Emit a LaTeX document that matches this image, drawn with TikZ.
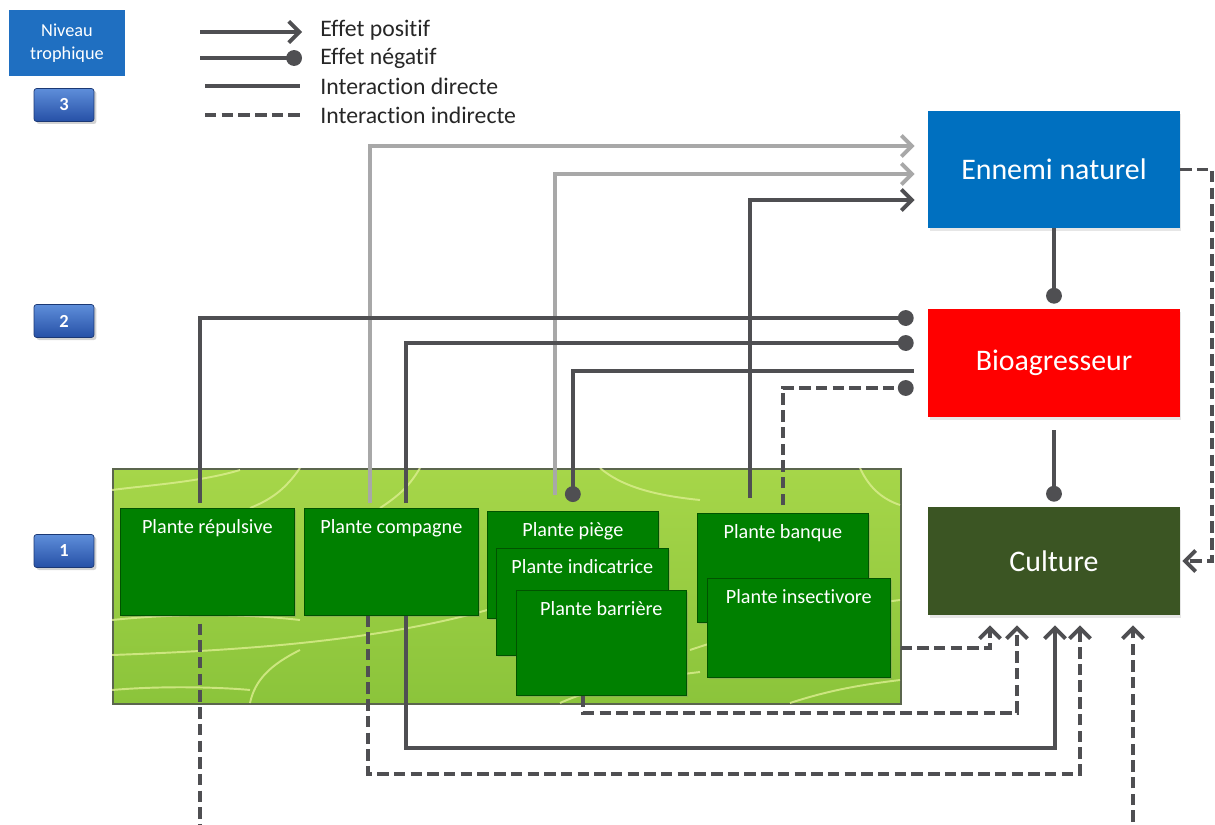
\documentclass[tikz,border=0pt]{standalone}
\usepackage{fontspec}
\setmainfont{Carlito}[Ligatures=NoCommon]
\usepackage{tikz}
\usetikzlibrary{arrows.meta,positioning,calc,shadows}
\usepackage{xcolor}
\definecolor{LevelBlue}{HTML}{1F6FC1}
\definecolor{BtnTop}{HTML}{5E8EDA}
\definecolor{BtnBottom}{HTML}{2650A6}
\definecolor{EnemyBlue}{HTML}{0070C0}
\definecolor{PestRed}{HTML}{FF0000}
\definecolor{CropGreen}{HTML}{3B5523}
\definecolor{PlantGreen}{HTML}{008000}
\definecolor{LeafLight}{HTML}{A6D649}
\definecolor{LeafDark}{HTML}{8BC43B}
\definecolor{LeafVein}{HTML}{DCEE90}
\definecolor{DarkLine}{HTML}{4F4F52}
\definecolor{LightLine}{HTML}{A8A8A8}

\begin{document}
\begin{tikzpicture}[x=0.02cm,y=-0.02cm,
    every node/.style={font=\fontsize{11.5}{13}\selectfont},
    link/.style={line width=2.2pt,DarkLine},
    pale/.style={line width=2.2pt,LightLine},
    indirect/.style={dash pattern=on 6.5pt off 3pt},
    effpos/.style={-{Straight Barb[length=6pt,width=12pt]}},
    effneg/.style={-{Circle[length=9pt]}},
    zone/.style={rectangle,minimum width=5.04cm,text=white,inner sep=0pt,
      font=\fontsize{17}{20}\selectfont,
      drop shadow={opacity=0.2,shadow xshift=0.03cm,shadow yshift=-0.06cm}},
    plante/.style={rectangle,fill=PlantGreen,draw=PlantGreen!65!black,
      text=white,anchor=north west,inner sep=0pt,text height=0.5cm,
      drop shadow={opacity=0.3,shadow xshift=0.03cm,shadow yshift=-0.04cm}},
    niveau/.style={rectangle,rounded corners=1.5pt,top color=BtnTop,
      bottom color=BtnBottom,draw=BtnBottom!70!black,
      minimum width=1.2cm,minimum height=0.66cm,text=white,
      font=\fontsize{10.5}{12}\selectfont\bfseries,
      drop shadow={opacity=0.35,shadow xshift=0.05cm,shadow yshift=-0.05cm}},
    legende/.style={anchor=west,text=black!85,inner sep=0pt,
      font=\fontsize{13.5}{16}\selectfont},
    vein/.style={LeafVein,line width=1.1pt,opacity=0.8}]

  \clip (0,0) rectangle (1215,825);

  % niveaux trophiques
  \node[rectangle,fill=LevelBlue,text=white,align=center,
        minimum width=2.32cm,minimum height=1.32cm,
        font=\fontsize{10.4}{13}\selectfont] (titre) at (67,43)
    {Niveau\\trophique};
  \node[niveau] (n3) at (64,105) {3};
  \node[niveau] (n2) at (64,321) {2};
  \node[niveau] (n1) at (64,551) {1};

  % legende
  \node[legende] (tpos) at (320,30) {Effet positif};
  \node[legende] (tneg) at (320,58) {Effet négatif};
  \node[legende] (tdir) at (320,86) {Interaction directe};
  \node[legende] (tind) at (320,115) {Interaction indirecte};
  \draw[link,effpos] ([xshift=-2.4cm,yshift=-0.04cm]tpos.west) -- ([xshift=-0.36cm,yshift=-0.04cm]tpos.west);
  \draw[link,effneg] ([xshift=-2.4cm]tneg.west) -- ([xshift=-0.36cm]tneg.west);
  \draw[link] ([xshift=-2.3cm]tdir.west) -- ([xshift=-0.4cm]tdir.west);
  \draw[link,indirect] ([xshift=-2.3cm]tind.west) -- ([xshift=-0.4cm]tind.west);

  % feuille
  \node[rectangle,anchor=north west,minimum width=15.76cm,minimum height=4.7cm,
        top color=LeafLight,bottom color=LeafDark,
        draw=DarkLine!80!LeafDark,line width=1.4pt] (feuille) at (112,468) {};
  \begin{scope}
    \clip (feuille.north west) rectangle (feuille.south east);
    \draw[vein] (112,655) .. controls (250,650) and (400,640) .. (520,600);
    \draw[vein] (250,703) .. controls (255,680) and (270,665) .. (300,650);
    \draw[vein] (112,620) .. controls (160,615) and (230,612) .. (300,620);
    \draw[vein] (300,468) .. controls (285,490) and (270,500) .. (250,508);
    \draw[vein] (420,468) .. controls (410,485) and (400,495) .. (380,508);
    \draw[vein] (600,468) .. controls (620,485) and (650,495) .. (700,500);
    \draw[vein] (690,650) .. controls (750,630) and (820,610) .. (900,600);
    \draw[vein] (560,703) .. controls (600,685) and (650,678) .. (700,672);
    \draw[vein] (790,703) .. controls (830,690) and (860,685) .. (900,680);
    \draw[vein] (112,690) .. controls (170,685) and (230,688) .. (250,690);
    \draw[vein] (860,468) .. controls (870,490) and (885,500) .. (900,505);
    \draw[vein] (112,490) .. controls (150,485) and (200,482) .. (240,470);
  \end{scope}

  % plantes de service
  \node[plante,minimum width=3.48cm,text depth=1.64cm] (repulsive) at (120,508) {Plante répulsive};
  \node[plante,minimum width=3.48cm,text depth=1.64cm] (compagne) at (304,508) {Plante compagne};
  \node[plante,minimum width=3.42cm,text depth=1.64cm] (piege) at (487,511) {Plante piège};
  \node[plante,minimum width=3.44cm,text depth=1.64cm] (indicatrice) at (496,548) {Plante indicatrice};
  \node[plante,minimum width=3.4cm,text depth=1.6cm] (barriere) at (516,590) {Plante barrière};
  \node[plante,minimum width=3.42cm,text depth=1.68cm] (banque) at (697,513) {Plante banque};
  \node[plante,minimum width=3.66cm,text depth=1.48cm] (insectivore) at (707,578) {Plante insectivore};

  % compartiments
  \node[zone,fill=EnemyBlue,minimum height=2.34cm] (ennemi) at (1054,169.5) {Ennemi naturel};
  \node[zone,fill=PestRed,minimum height=2.16cm] (bio) at (1054,363) {Bioagresseur};
  \node[zone,fill=CropGreen,minimum height=2.16cm] (culture) at (1054,561) {Culture};

  % effets sur l'ennemi naturel
  \draw[pale,effpos,shorten <=0.1cm,shorten >=0.26cm]
    ([xshift=-0.42cm]compagne.north) |- ([yshift=0.47cm]ennemi.west);
  \draw[pale,effpos,shorten <=0.32cm,shorten >=0.26cm]
    ([xshift=-0.35cm]piege.north) |- ([yshift=-0.09cm]ennemi.west);
  \draw[link,effpos,shorten <=0.3cm,shorten >=0.26cm]
    ([xshift=-0.65cm]banque.north) |- ([yshift=-0.61cm]ennemi.west);

  % effets sur le bioagresseur
  \draw[link,effneg,shorten <=0.1cm,shorten >=0.28cm]
    ([xshift=-0.14cm]repulsive.north) |- ([yshift=0.9cm]bio.west);
  \draw[link,effneg,shorten <=0.1cm,shorten >=0.28cm]
    ([xshift=0.3cm]compagne.north) |- ([yshift=0.4cm]bio.west);
  \draw[link,effneg,shorten <=0.28cm,shorten >=0.18cm]
    ([yshift=-0.16cm]bio.west) -| (piege.north);
  \draw[link,indirect,effneg,shorten <=0.16cm,shorten >=0.28cm]
    (banque.north) |- ([yshift=-0.5cm]bio.west);

  \draw[link,effneg,shorten >=0.1cm] (ennemi) -- (bio);
  \draw[link,effneg,shorten <=0.26cm,shorten >=0.1cm] (bio) -- (culture);

  % effets sur la culture
  \draw[link,indirect,effpos,shorten <=0.2cm,shorten >=0.2cm]
    ([yshift=-0.41cm]insectivore.east) -| ([xshift=-1.28cm]culture.south);
  \draw[link,indirect,effpos,shorten >=0.2cm]
    ([xshift=-0.36cm]barriere.south) -- ++(0,-0.34cm) -| ([xshift=-0.74cm]culture.south);
  \draw[link,effpos,shorten >=0.2cm]
    ([xshift=0.3cm]compagne.south) -- ++(0,-2.64cm) -| ([xshift=0.02cm]culture.south);
  \draw[link,indirect,effpos,shorten >=0.2cm]
    ([xshift=-0.46cm]compagne.south) -- ++(0,-3.16cm) -| ([xshift=0.52cm]culture.south);
  \draw[link,indirect,effpos,shorten <=0.16cm,shorten >=0.2cm]
    ([xshift=-0.14cm]repulsive.south) -- ++(0,-4.5cm) -| ([xshift=1.58cm]culture.south);
  \draw[link,indirect,effpos,shorten >=0.04cm]
    (ennemi.east) -- ++(0.64cm,0) |- (culture.east);
\end{tikzpicture}
\end{document}
